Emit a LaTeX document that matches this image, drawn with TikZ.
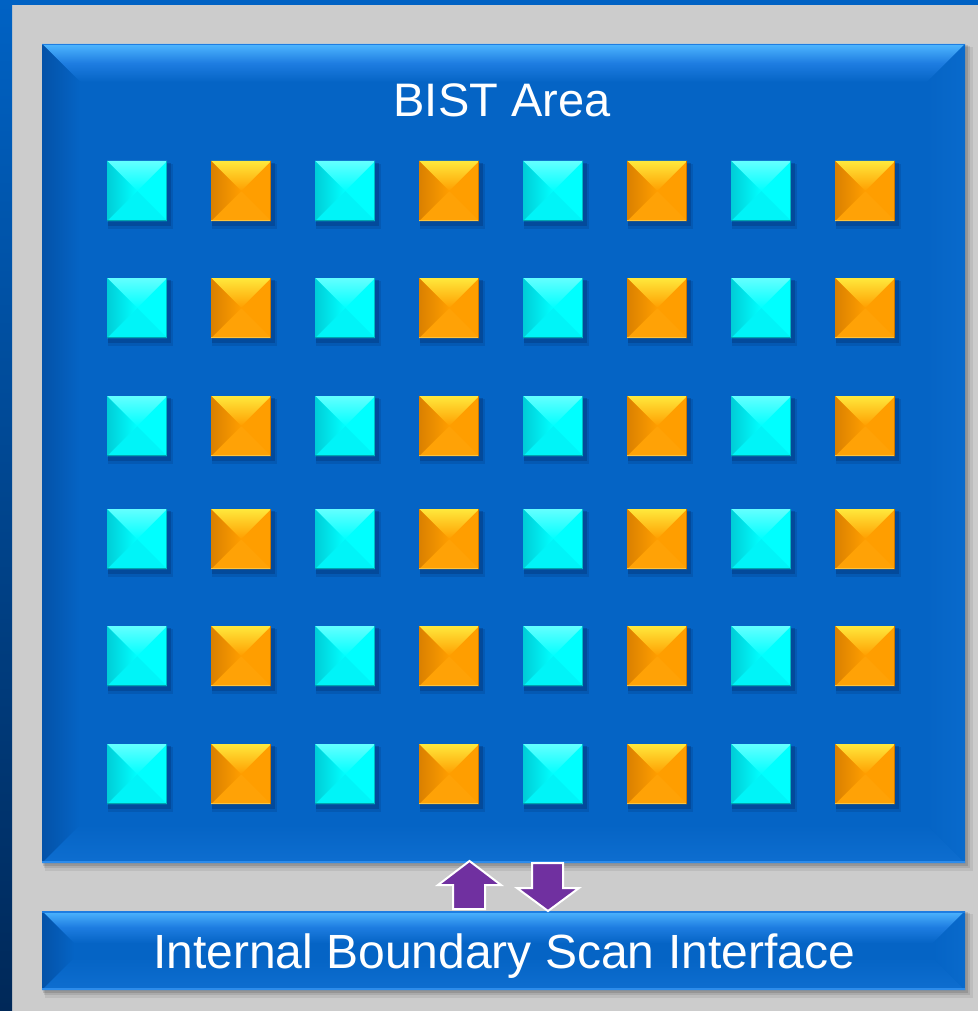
\documentclass[tikz,border=0pt]{standalone}
\usepackage{fontspec}
\setmainfont{Liberation Sans}
\usetikzlibrary{calc}
\definecolor{bgray}{RGB}{204,204,204}
\definecolor{stripblue}{RGB}{0,98,196}
\definecolor{stripnavy}{RGB}{0,40,88}
\definecolor{bodyblue}{RGB}{5,100,197}
\definecolor{topblue}{RGB}{78,182,255}
\definecolor{edgeblue}{RGB}{30,125,225}
\definecolor{leftblue}{RGB}{4,82,168}
\definecolor{botblue}{RGB}{45,140,235}
\definecolor{botfade}{RGB}{14,110,208}
\definecolor{rightblue}{RGB}{9,106,204}
\definecolor{purp}{RGB}{112,48,160}
\definecolor{sqshadow}{RGB}{2,40,100}
\definecolor{cyBase}{RGB}{0,255,255}
\definecolor{cyTop}{RGB}{100,255,255}
\definecolor{cyMid}{RGB}{30,255,255}
\definecolor{cyLeft}{RGB}{0,205,215}
\definecolor{cyBot}{RGB}{0,244,248}
\definecolor{cyEdgeB}{RGB}{0,165,175}
\definecolor{cyEdgeR}{RGB}{0,185,195}
\definecolor{orBase}{RGB}{255,158,0}
\definecolor{orTop}{RGB}{255,232,60}
\definecolor{orMid}{RGB}{255,180,15}
\definecolor{orLeft}{RGB}{218,128,0}
\definecolor{orBot}{RGB}{255,162,6}
\definecolor{orEdgeB}{RGB}{255,196,60}
\definecolor{orEdgeR}{RGB}{205,118,0}
\tikzset{
  boxshape/.style={inner sep=0pt, outer sep=0pt},
  sqnode/.style={minimum width=60pt, minimum height=60pt, inner sep=0pt, outer sep=0pt},
  lbltext/.style={text=white, font=\fontsize{47}{56}\selectfont, inner sep=0pt},
  blockarrow/.style={fill=purp, draw=white, line width=2pt, line join=miter},
}
\newcommand\boxshadow[1]{%
  \fill[black, opacity=0.07] ($(#1.north west)+(3,3)$) rectangle ($(#1.south east)+(8,8)$);
  \fill[black, opacity=0.09] ($(#1.north west)+(2,2)$) rectangle ($(#1.south east)+(5,5)$);
  \fill[black, opacity=0.12] ($(#1.north west)+(1,1)$) rectangle ($(#1.south east)+(2.5,2.5)$);
}
\newcommand\bevelbox[2]{%
  \fill[bodyblue] (#1.north west) rectangle (#1.south east);
  \coordinate (#1-inw) at ($(#1.north west)+(#2,#2)$);
  \coordinate (#1-ine) at ($(#1.north east)+(-#2,#2)$);
  \coordinate (#1-isw) at ($(#1.south west)+(#2,-#2)$);
  \coordinate (#1-ise) at ($(#1.south east)+(-#2,-#2)$);
  \shade[top color=topblue, bottom color=bodyblue, middle color=edgeblue]
    (#1.north west) -- (#1.north east) -- (#1-ine) -- (#1-inw) -- cycle;
  \shade[left color=leftblue, right color=bodyblue]
    (#1.north west) -- (#1-inw) -- (#1-isw) -- (#1.south west) -- cycle;
  \shade[bottom color=botfade, top color=bodyblue]
    (#1.south west) -- (#1-isw) -- (#1-ise) -- (#1.south east) -- cycle;
  \shade[right color=rightblue, left color=bodyblue]
    (#1.north east) -- (#1-ine) -- (#1-ise) -- (#1.south east) -- cycle;
  \draw[edgeblue, line width=1.5pt] ($(#1.north west)+(0,0.75)$) -- ($(#1.north east)+(0,0.75)$);
  \draw[botblue, line width=2pt] ($(#1.south west)+(0,-1)$) -- ($(#1.south east)+(0,-1)$);
}
\begin{document}
\begin{tikzpicture}[x=1pt, y=-1pt]
  \useasboundingbox (0,0) rectangle (978,1011);
  % background and frame strips
  \fill[bgray] (0,0) rectangle (978,1011);
  \shade[top color=stripblue, bottom color=stripnavy] (0,0) rectangle (12,1011);
  \fill[stripblue] (0,0) rectangle (978,5);

  % BIST area box
  \node[boxshape, minimum width=923pt, minimum height=819pt] (bist) at (503.5,453.5) {};
  \boxshadow{bist}
  \bevelbox{bist}{38}

  % interface bar
  \node[boxshape, minimum width=923pt, minimum height=79pt] (ibsi) at (503.5,950.5) {};
  \boxshadow{ibsi}
  \bevelbox{ibsi}{32}

  % titles
  \node[lbltext, anchor=base] (bisttitle) at (502,117) {BIST Area};
  \node[lbltext, anchor=base, font=\fontsize{48}{56}\selectfont] (ibsititle) at (504,968) {Internal Boundary Scan Interface};

  % squares
  \foreach \yy [count=\r] in {161,278,396,509,626,744}{
    \foreach \c in {1,...,8}{
      \pgfmathsetmacro\xx{107+104*(\c-1)}
      \ifodd\c \def\k{cy}\else\def\k{or}\fi
      \node[sqnode] (s\r-\c) at (\xx+30,\yy+30) {};
      \fill[sqshadow, opacity=0.18] ($(s\r-\c.north west)+(1,3)$) rectangle ($(s\r-\c.south east)+(6,8)$);
      \fill[sqshadow, opacity=0.30] ($(s\r-\c.north west)+(1,2)$) rectangle ($(s\r-\c.south east)+(3.5,5)$);
      \fill[\k Base] (s\r-\c.north west) rectangle (s\r-\c.south east);
      \fill[\k Bot] (s\r-\c.south west) -- (s\r-\c.center) -- (s\r-\c.south east) -- cycle;
      \shade[top color=\k Top, middle color=\k Mid, bottom color=\k Base]
        (s\r-\c.north west) -- (s\r-\c.north east) -- (s\r-\c.center) -- cycle;
      \shade[left color=\k Left, right color=\k Base]
        (s\r-\c.north west) -- (s\r-\c.center) -- (s\r-\c.south west) -- cycle;
      \draw[\k EdgeB, line width=1.5pt] ($(s\r-\c.south west)+(0,-0.75)$) -- ($(s\r-\c.south east)+(0,-0.75)$);
      \draw[\k EdgeR, line width=1.2pt] ($(s\r-\c.north east)+(-0.6,0)$) -- ($(s\r-\c.south east)+(-0.6,0)$);
    }
  }

  % block arrows between the BIST area and the interface
  \draw[blockarrow] (469.5,861) -- (501,885) -- (485,885) -- (485,909) -- (453,909)
    -- (453,885) -- (438,885) -- cycle;
  \draw[blockarrow] (532,863) -- (563,863) -- (563,888) -- (579,888) -- (548,911)
    -- (517,888) -- (532,888) -- cycle;
\end{tikzpicture}
\end{document}
